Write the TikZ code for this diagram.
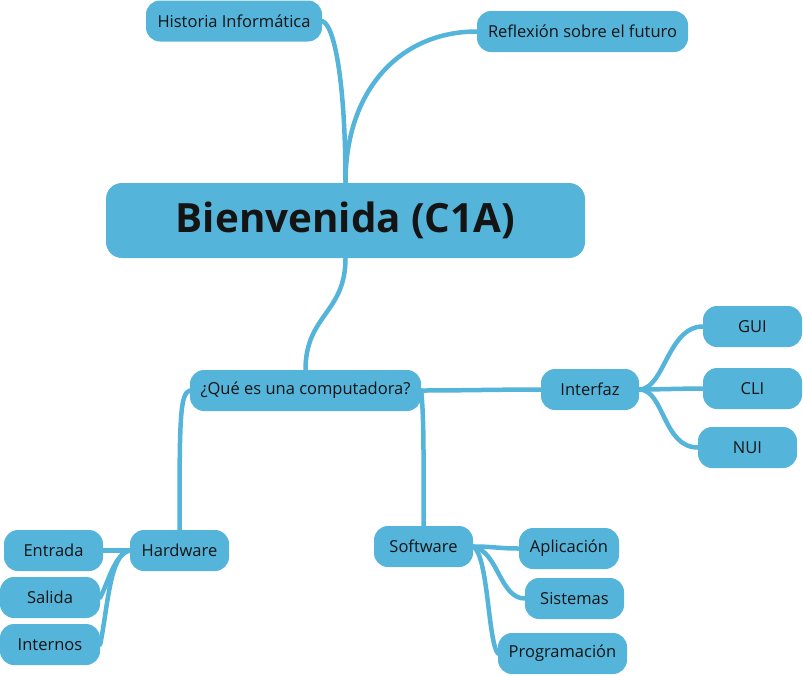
\documentclass[tikz,border=0pt]{standalone}
\usepackage{fontspec}
\setmainfont{Open Sans}
\definecolor{mmblue}{RGB}{84,180,218}
\definecolor{mmtext}{RGB}{20,20,20}
\pgfdeclarelayer{background}
\pgfsetlayers{background,main}
\tikzset{
  topic/.style={fill=mmblue, rounded corners=14pt, inner sep=0pt, text=mmtext,
    font=\fontsize{16.5}{19}\selectfont, minimum height=41pt, align=center},
  root/.style={fill=mmblue, rounded corners=16pt, inner sep=0pt, text=mmtext,
    font=\fontsize{40.3}{46}\selectfont\bfseries, minimum width=479pt, minimum height=75pt},
  link/.style={draw=mmblue, line width=4.5pt, line cap=round},
}
\begin{document}
\begin{tikzpicture}[x=1pt,y=-1pt]
\useasboundingbox (0,0) rectangle (803,675);
\node[root] (B) at (345.5,220.5) {Bienvenida (C1A)};
\node[topic, minimum width=176pt] (hist) at (234,21) {Historia Informática};
\node[topic, minimum width=211pt] (refl) at (582.5,31.5) {Reflexión sobre el futuro};
\node[topic, minimum width=231pt] (qu) at (305.5,390.5) {¿Qué es una computadora?};
\node[topic, minimum width=98pt] (intf) at (590,389.5) {Interfaz};
\node[topic, minimum width=99pt] (gui) at (752.5,326.5) {GUI};
\node[topic, minimum width=99pt] (cli) at (752.5,388.5) {CLI};
\node[topic, minimum width=99pt] (nui) at (747.5,447.5) {NUI};
\node[topic, minimum width=99pt] (hw) at (179.5,550.5) {Hardware};
\node[topic, minimum width=99pt] (ent) at (53.5,550.5) {Entrada};
\node[topic, minimum width=100pt] (sal) at (50,597.5) {Salida};
\node[topic, minimum width=100pt] (int) at (50,644.5) {Internos};
\node[topic, minimum width=99pt] (sw) at (423.5,546.5) {Software};
\node[topic, minimum width=100pt] (apl) at (569,548.5) {Aplicación};
\node[topic, minimum width=99pt] (sis) at (574.5,598.5) {Sistemas};
\node[topic, minimum width=129pt] (prog) at (562.5,653.5) {Programación};
\begin{pgfonlayer}{background}
\draw[link] (hist.east) .. controls +(14,5) and +(0,-90) .. (B.north);
\draw[link] (B.north) .. controls +(0,-95) and +(-75,0) .. (refl.west);
\draw[link] (B.south) .. controls +(0,55) and +(0,-55) .. (qu.north);
\draw[link] (qu.east) .. controls +(40,0) and +(-40,0) .. (intf.west);
\draw[link] (qu.east) .. controls +(3,30) and +(0,-60) .. (sw.north);
\draw[link] (qu.west) .. controls +(-10,3) and +(0,-110) .. (hw.north);
\draw[link] (intf.east) .. controls +(25,0) and +(-35,0) .. (gui.west);
\draw[link] (intf.east) .. controls +(20,0) and +(-20,0) .. (cli.west);
\draw[link] (intf.east) .. controls +(25,0) and +(-35,0) .. (nui.west);
\draw[link] (hw.west) .. controls +(-10,0) and +(10,0) .. (ent.east);
\draw[link] (hw.west) .. controls +(-15,3) and +(8,-15) .. (sal.east);
\draw[link] (hw.west) .. controls +(-20,3) and +(8,-40) .. (int.east);
\draw[link] (sw.east) .. controls +(20,0) and +(-20,0) .. (apl.west);
\draw[link] (sw.east) .. controls +(25,5) and +(-25,0) .. (sis.west);
\draw[link] (sw.east) .. controls +(15,9) and +(-10,-14) .. (prog.west);
\end{pgfonlayer}
\end{tikzpicture}
\end{document}
